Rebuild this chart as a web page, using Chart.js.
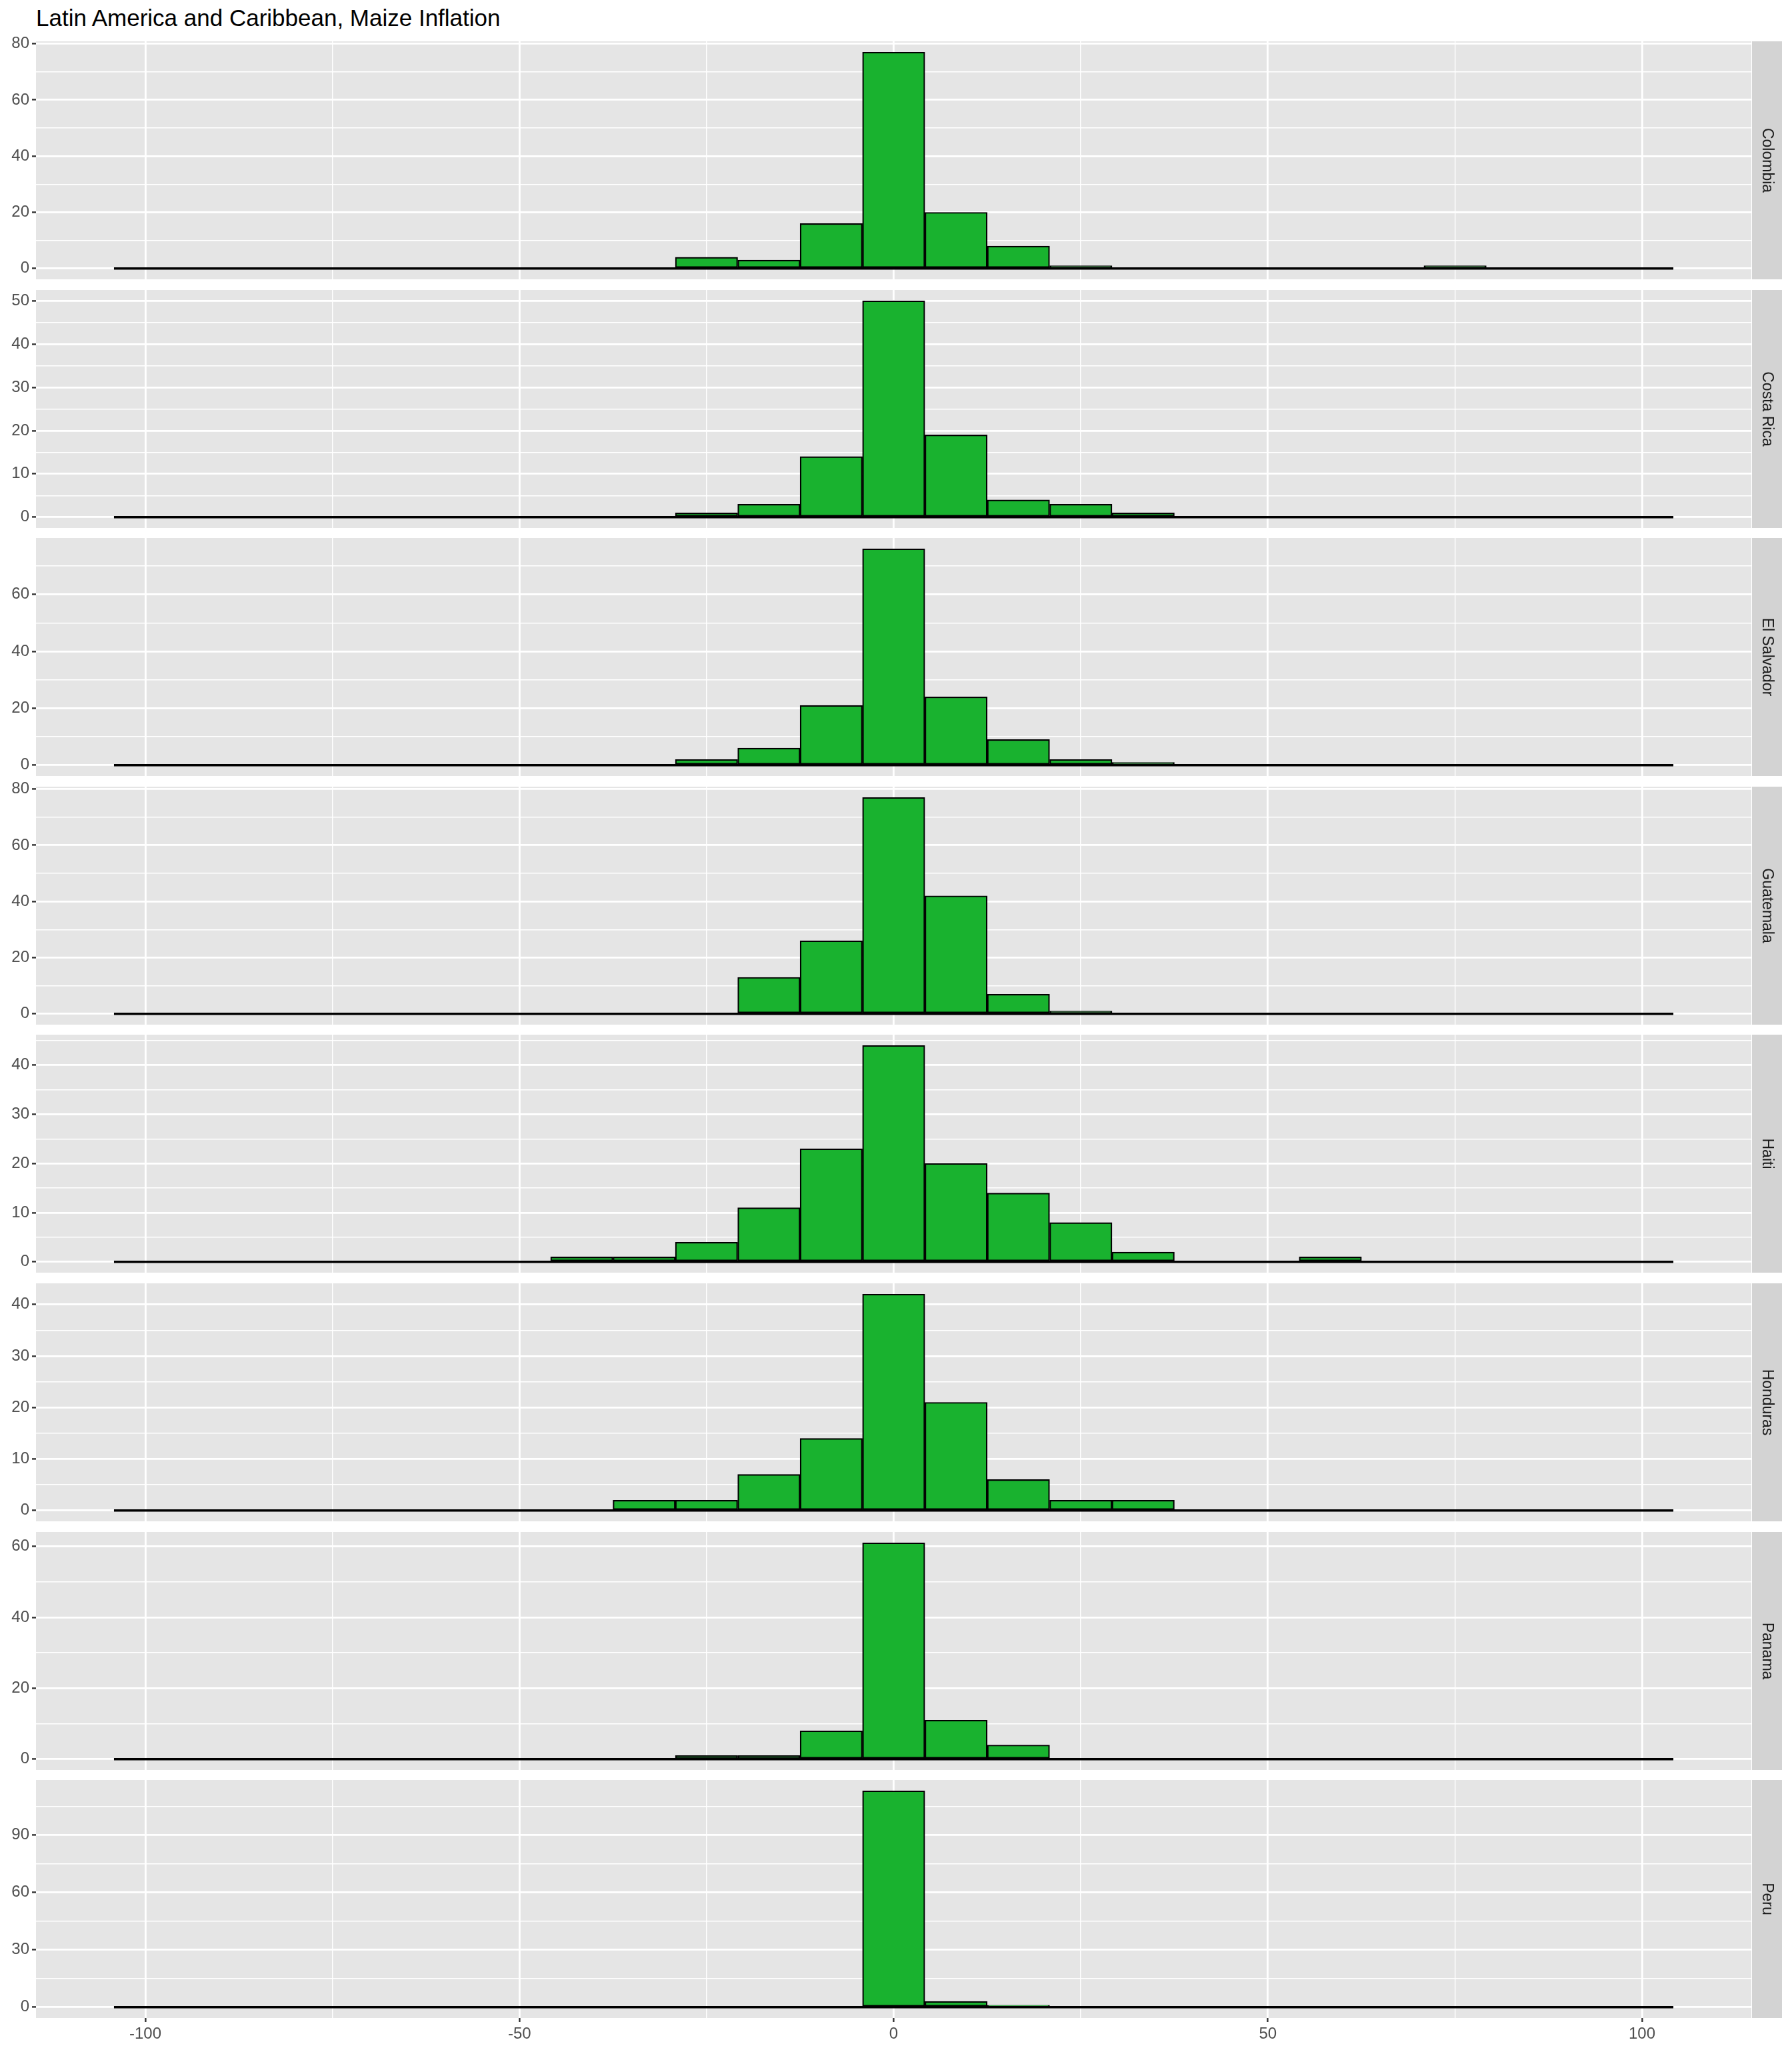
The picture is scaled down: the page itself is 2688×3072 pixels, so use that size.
<!DOCTYPE html>
<html>
<head>
<meta charset="utf-8">
<script src="https://cdn.jsdelivr.net/npm/chart.js@4.4.1/dist/chart.umd.min.js"></script>
<style>
  html, body { margin: 0; padding: 0; background: #fff; }
  body { width: 2688px; height: 3072px; position: relative; overflow: hidden; font-family: "Liberation Sans", Arial, sans-serif; }
  .title { position: absolute; left: 54px; top: 7px; font-size: 35px; line-height: 40px; color: #000; white-space: nowrap; }
  canvas { position: absolute; left: 0; }
</style>
</head>
<body>
<div class="title" id="title"></div>
<script>
const TITLE = "Latin America and Caribbean, Maize Inflation"

const countries = ["Colombia", "Costa Rica", "El Salvador", "Guatemala", "Haiti", "Honduras", "Panama", "Peru"]

// histogram bin centres (bin width ~8.335)
const binCenters = [
  -100.02, -91.69, -83.35, -75.02, -66.68, -58.35, -50.01, -41.68, -33.34, -25.01, -16.67, -8.34,
  0,
  8.34, 16.67, 25.01, 33.34, 41.68, 50.01, 58.35, 66.68, 75.02, 83.35, 91.69, 100.02
]
const BIN_WIDTH = 8.335

// counts per bin, one array per country
const colombia   = [0,0,0,0,0,0,0,0,0, 4, 3,16, 77,20, 8,1,0,0,0,0,0,1,0,0,0]
const costaRica  = [0,0,0,0,0,0,0,0,0, 1, 3,14, 50,19, 4,3,1,0,0,0,0,0,0,0,0]
const elSalvador = [0,0,0,0,0,0,0,0,0, 2, 6,21, 76,24, 9,2,1,0,0,0,0,0,0,0,0]
const guatemala  = [0,0,0,0,0,0,0,0,0, 0,13,26, 77,42, 7,1,0,0,0,0,0,0,0,0,0]
const haiti      = [0,0,0,0,0,0,0,1,1, 4,11,23, 44,20,14,8,2,0,0,1,0,0,0,0,0]
const honduras   = [0,0,0,0,0,0,0,0,2, 2, 7,14, 42,21, 6,2,2,0,0,0,0,0,0,0,0]
const panama     = [0,0,0,0,0,0,0,0,0, 1, 1, 8, 61,11, 4,0,0,0,0,0,0,0,0,0,0]
const peru       = [0,0,0,0,0,0,0,0,0, 0, 0, 0,113, 3, 1,0,0,0,0,0,0,0,0,0,0]
const counts = [colombia, costaRica, elSalvador, guatemala, haiti, honduras, panama, peru]

// tick labels
const xTicks = [-100, -50, 0, 50, 100]
const yTicks = [
  [0, 20, 40, 60, 80],
  [0, 10, 20, 30, 40, 50],
  [0, 20, 40, 60],
  [0, 20, 40, 60, 80],
  [0, 10, 20, 30, 40],
  [0, 10, 20, 30, 40],
  [0, 20, 40, 60],
  [0, 30, 60, 90]
]

// layout, px
const PANEL_LEFT = 54
const PANEL_RIGHT = 2627
const STRIP_W = 45
const PANEL_TOP0 = 62
const PANEL_H = 357
const PANEL_STEP = 372.6
const PAD = 20
const X_AXIS_H = 45

const FONT = "'Liberation Sans', Arial, sans-serif"
const PANEL_BG = "#E5E5E5"
const STRIP_BG = "#D3D3D3"
const FILL = "#19B22F"

const X_MIN = -13.75 * BIN_WIDTH
const X_MAX = 13.75 * BIN_WIDTH

Chart.defaults.font.family = FONT

document.getElementById("title").textContent = TITLE

// majors plus ggplot-style minor breaks halfway between them
function withMinor(majors, min, max) {
  const step = majors[1] - majors[0]
  const out = []
  for (let v = majors[0] - step; v <= majors[majors.length - 1] + step + 1e-9; v += step / 2) {
    if (v >= min && v <= max) out.push(Math.round(v * 1000) / 1000)
  }
  return out
}

const panelBg = {
  id: "panelBg",
  beforeDraw(chart) {
    const { ctx, chartArea: a } = chart
    ctx.save()
    ctx.fillStyle = PANEL_BG
    ctx.fillRect(a.left, a.top, a.right - a.left, a.bottom - a.top)
    ctx.restore()
  }
}

const strip = {
  id: "strip",
  afterDraw(chart, args, opts) {
    const { ctx, chartArea: a } = chart
    ctx.save()
    ctx.fillStyle = STRIP_BG
    ctx.fillRect(a.right + 1, a.top, STRIP_W, a.bottom - a.top)
    ctx.translate(a.right + 1 + STRIP_W / 2, (a.top + a.bottom) / 2)
    ctx.rotate(Math.PI / 2)
    ctx.fillStyle = "#1A1A1A"
    ctx.font = "23px " + FONT
    ctx.textAlign = "center"
    ctx.textBaseline = "middle"
    ctx.fillText(opts.label, 0, 0)
    ctx.restore()
  }
}

function makePanel(i) {
  const data = counts[i]
  const last = i === counts.length - 1
  const top = Math.round(PANEL_TOP0 + i * PANEL_STEP)

  const canvas = document.createElement("canvas")
  canvas.width = 2688
  canvas.height = PAD + PANEL_H + (last ? X_AXIS_H : PAD)
  canvas.style.top = (top - PAD) + "px"
  document.body.appendChild(canvas)

  const peak = Math.max(...data)
  const yMin = -0.05 * peak
  const yMax = 1.05 * peak
  const yMajor = yTicks[i]
  const yAll = withMinor(yMajor, yMin, yMax)
  const xAll = withMinor(xTicks, X_MIN, X_MAX)

  const lw = majors => ctx => (majors.includes(ctx.tick.value) ? 2.8 : 1.4)
  const tc = majors => ctx => (majors.includes(ctx.tick.value) ? "#333333" : "rgba(0,0,0,0)")

  new Chart(canvas, {
    type: "bar",
    data: {
      datasets: [
        {
          type: "line",
          data: [
            { x: binCenters[0] - BIN_WIDTH / 2, y: 0 },
            { x: binCenters[binCenters.length - 1] + BIN_WIDTH / 2, y: 0 }
          ],
          borderColor: "#000",
          borderWidth: 3.5,
          pointRadius: 0,
          order: 0
        },
        {
          data: binCenters.map((x, k) => ({ x, y: data[k] })),
          backgroundColor: FILL,
          borderColor: "#000",
          borderWidth: 2.2,
          borderSkipped: false,
          barPercentage: 1,
          categoryPercentage: 1,
          order: 1
        }
      ]
    },
    options: {
      responsive: false,
      animation: false,
      devicePixelRatio: 1,
      layout: { padding: { top: PAD, bottom: last ? 0 : PAD, left: 0, right: 2688 - PANEL_RIGHT } },
      plugins: {
        legend: { display: false },
        tooltip: { enabled: false },
        strip: { label: countries[i] }
      },
      scales: {
        x: {
          type: "linear",
          min: X_MIN,
          max: X_MAX,
          offset: false,
          border: { display: false },
          grid: {
            offset: false,
            color: "#FFFFFF",
            lineWidth: lw(xTicks),
            drawTicks: last,
            tickLength: 6,
            tickWidth: 2.4,
            tickColor: tc(xTicks)
          },
          ticks: {
            display: last,
            autoSkip: false,
            maxRotation: 0,
            padding: 4,
            color: "#4D4D4D",
            font: { size: 24 },
            callback: v => (xTicks.includes(v) ? String(v) : "")
          },
          afterBuildTicks: s => { s.ticks = xAll.map(value => ({ value })) },
          afterFit: s => { s.height = last ? X_AXIS_H : 0 }
        },
        y: {
          type: "linear",
          min: yMin,
          max: yMax,
          border: { display: false },
          grid: {
            color: "#FFFFFF",
            lineWidth: lw(yMajor),
            tickLength: 6,
            tickWidth: 2.4,
            tickColor: tc(yMajor)
          },
          ticks: {
            autoSkip: false,
            padding: 4,
            color: "#4D4D4D",
            font: { size: 24 },
            callback: v => (yMajor.includes(v) ? String(v) : "")
          },
          afterBuildTicks: s => { s.ticks = yAll.map(value => ({ value })) },
          afterFit: s => { s.width = PANEL_LEFT }
        }
      }
    },
    plugins: [panelBg, strip]
  })
}

countries.forEach((c, i) => makePanel(i))
</script>
</body>
</html>
